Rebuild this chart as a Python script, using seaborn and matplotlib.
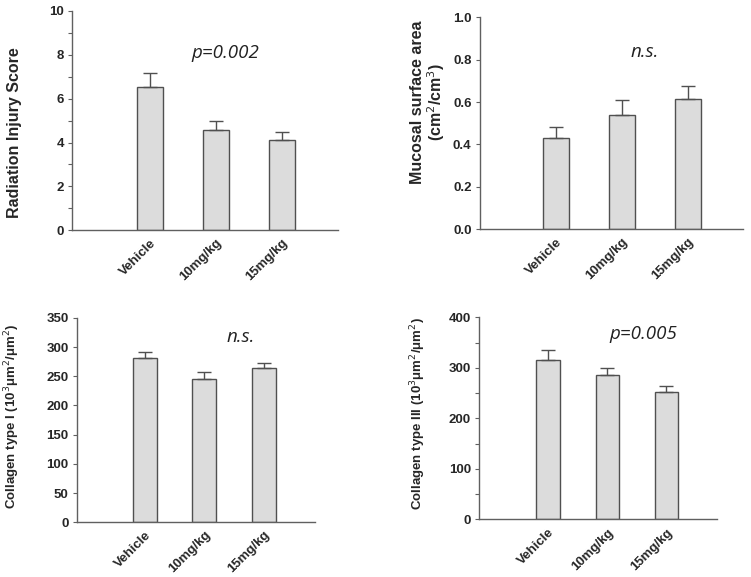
import numpy as np
import pandas as pd
import matplotlib
matplotlib.use("Agg")
import matplotlib.pyplot as plt
import seaborn as sns
from matplotlib.ticker import MultipleLocator, FormatStrFormatter

# data
groups = ['Vehicle', '10mg/kg', '15mg/kg']

injury_mean = [6.52, 4.58, 4.11]
injury_err = [0.65, 0.38, 0.39]

mucosal_mean = [0.428, 0.541, 0.613]
mucosal_err = [0.055, 0.067, 0.062]

col1_mean = [281, 245, 264]
col1_err = [10, 13, 9]

col3_mean = [316, 286, 252]
col3_err = [19, 14, 13]

sns.set_style("white")
plt.rcParams['font.family'] = ['Liberation Sans', 'DejaVu Sans']

bar_fill = '#dcdcdc'
edge = '#505050'
axis_col = '#606060'

fig = plt.figure(figsize=(7.51, 5.77), dpi=100)


def panel(rect, means, errs, ylim, major, minor, ylabel, label_xy, label_size,
          note, note_xy, xlim, xsize=9.5, fmt=None):
    ax = fig.add_axes(rect)
    df = pd.DataFrame({'group': groups, 'value': means})
    sns.barplot(data=df, x='group', y='value', color=bar_fill, width=0.4,
                edgecolor=edge, linewidth=1.0, saturation=1, errorbar=None, ax=ax)
    pos = np.arange(len(groups))
    ax.errorbar(pos, means, yerr=[np.zeros(len(errs)), errs], fmt='none',
                ecolor=edge, elinewidth=1.0, capsize=5, capthick=1.0, zorder=1)
    ax.set_ylim(*ylim)
    ax.set_xlim(*xlim)
    ax.yaxis.set_major_locator(MultipleLocator(major))
    if minor:
        ax.yaxis.set_minor_locator(MultipleLocator(minor))
    if fmt:
        ax.yaxis.set_major_formatter(fmt)
    for s in ['top', 'right']:
        ax.spines[s].set_visible(False)
    for s in ['left', 'bottom']:
        ax.spines[s].set_color(axis_col)
        ax.spines[s].set_linewidth(1.0)
    ax.tick_params(axis='y', which='both', direction='out', length=3,
                   width=0.8, color=axis_col, left=True, labelsize=9.5, pad=3)
    ax.tick_params(axis='x', length=0, labelsize=xsize, pad=5)
    for t in ax.get_yticklabels():
        t.set_fontweight('bold')
    ax.set_xticks(pos)
    ax.set_xticklabels(groups, rotation=45, ha='right', rotation_mode='anchor',
                       fontweight='bold')
    ax.set_xlabel('')
    ax.set_ylabel(ylabel, fontsize=label_size, fontweight='bold', va='center',
                  linespacing=1.05)
    ax.yaxis.set_label_coords(*label_xy)
    ax.text(note_xy[0], note_xy[1], note, fontsize=13.5, style='italic',
            family=['Open Sans', 'DejaVu Sans'], ha='center', va='center',
            color='#222222')
    return ax


panel([0.096, 0.601, 0.354, 0.380], injury_mean, injury_err, (0, 10), 2, 1,
      'Radiation Injury Score', (-0.215, 0.443), 11.5,
      'p=0.002', (1.15, 8.1), (-1.18, 2.85))

panel([0.639, 0.603, 0.350, 0.367], mucosal_mean, mucosal_err, (0, 1.0), 0.2, None,
      'Mucosal surface area\n(cm$^2$/cm$^3$)', (-0.195, 0.6), 11.5,
      'n.s.', (1.35, 0.835), (-1.15, 2.83), fmt=FormatStrFormatter('%.1f'))

panel([0.1025, 0.095, 0.317, 0.354], col1_mean, col1_err, (0, 350), 50, None,
      'Collagen type I (10$^3$\u03bcm$^2$/\u03bcm$^2$)', (-0.27, 0.52), 9.5,
      'n.s.', (1.61, 317), (-1.14, 2.86))

panel([0.638, 0.100, 0.317, 0.350], col3_mean, col3_err, (0, 400), 100, 50,
      'Collagen type III (10$^3$\u03bcm$^2$/\u03bcm$^2$)', (-0.255, 0.525), 9.5,
      'p=0.005', (1.61, 368), (-1.17, 2.86))

fig.savefig('out.png', dpi=100)
